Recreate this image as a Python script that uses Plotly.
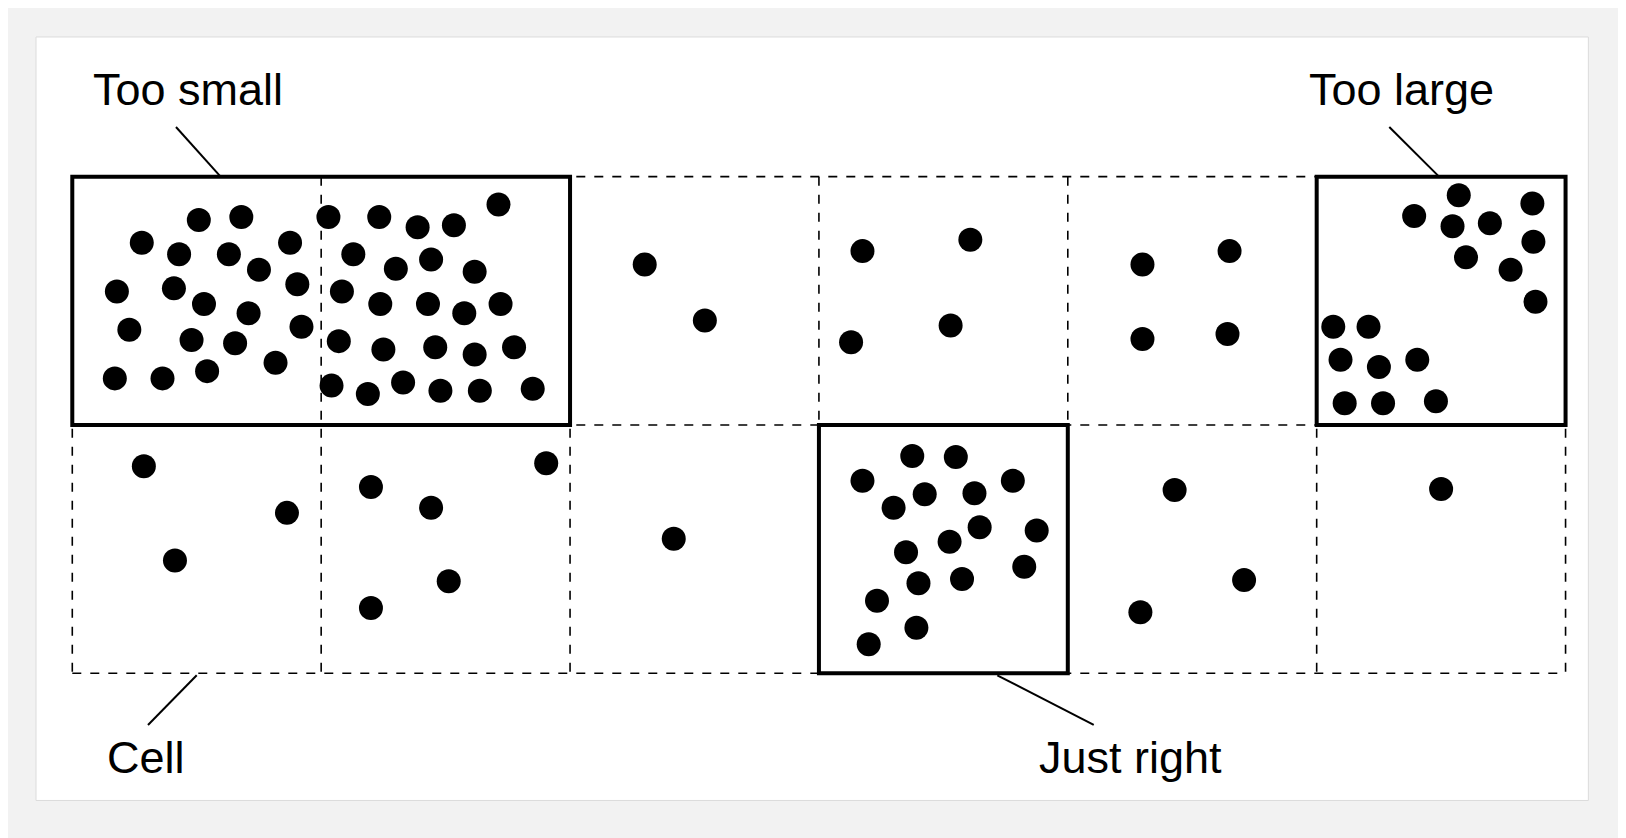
import plotly.graph_objects as go

# grid of cells (reference pixel coordinates)
col_edges = [70, 310, 550, 790, 1030, 1270, 1510]
row_edges = [170, 410, 650]

# dot positions
dots_x = [192, 233, 137, 173, 221, 280, 250, 113, 168, 197, 287, 240, 125, 185, 227, 291, 266, 111, 157, 200,
          317, 366, 403, 438, 481, 341, 382, 416, 458, 330, 367, 413, 448, 483, 327, 370, 420, 458, 496, 320, 355, 389, 425, 463, 514,
          622, 680,
          832, 936, 821, 917,
          1102, 1186, 1102, 1184,
          1407, 1478, 1364, 1401, 1437, 1414, 1457, 1479, 1481, 1286, 1320, 1293, 1330, 1367, 1297, 1334, 1385,
          139, 277, 169,
          358, 416, 527, 433, 358,
          650,
          832, 880, 922, 977, 862, 892, 940, 1000, 874, 916, 945, 988, 886, 928, 846, 884, 838,
          1133, 1200, 1100,
          1390]
dots_y = [212, 209, 234, 245, 245, 234, 260, 281, 278, 293, 274, 302, 318, 328, 331, 315, 350, 365, 365, 358,
          209, 209, 219, 217, 197, 245, 259, 250, 262, 281, 293, 293, 302, 293, 329, 337, 335, 342, 335, 372, 380, 369, 377, 377, 375,
          255, 309,
          242, 231, 330, 314,
          255, 242, 327, 322,
          188, 196, 208, 218, 215, 248, 260, 233, 291, 315, 315, 347, 354, 347, 389, 389, 387,
          450, 495, 541,
          470, 490, 447, 561, 587,
          520,
          464, 440, 441, 464, 490, 477, 476, 512, 533, 523, 509, 547, 563, 559, 580, 606, 622,
          473, 560, 591,
          472]

# highlighted windows: (x0, y0, x1, y1)
boxes = [(70, 170, 550, 410), (1270, 170, 1510, 410), (790, 410, 1030, 650)]

# labels: text, text position, leader line
labels = [
    ("Too small", 182, 86, (170, 122), (213, 170)),
    ("Too large", 1352, 86, (1340, 122), (1388, 170)),
    ("Cell", 141, 731, (190, 652), (143, 700)),
    ("Just right", 1090, 731, (962, 652), (1055, 700)),
]

fig = go.Figure()
shapes = [dict(type="rect", x0=35, y0=35, x1=1532, y1=773, line=dict(color="#dcdcdc", width=1),
               fillcolor="white", layer="below")]
for x in col_edges:
    shapes.append(dict(type="line", x0=x, x1=x, y0=row_edges[0], y1=row_edges[-1],
                       line=dict(color="black", width=1.6, dash="dash")))
for y in row_edges:
    shapes.append(dict(type="line", x0=col_edges[0], x1=col_edges[-1], y0=y, y1=y,
                       line=dict(color="black", width=1.6, dash="dash")))
for x0, y0, x1, y1 in boxes:
    shapes.append(dict(type="rect", x0=x0, y0=y0, x1=x1, y1=y1, line=dict(color="black", width=4)))
annotations = []
for text, tx, ty, p0, p1 in labels:
    shapes.append(dict(type="line", x0=p0[0], y0=p0[1], x1=p1[0], y1=p1[1], line=dict(color="black", width=2)))
    annotations.append(dict(x=tx, y=ty, text=text, showarrow=False,
                            font=dict(family="Liberation Sans, Arial", size=45, color="black")))

fig.add_trace(go.Scatter(x=dots_x, y=dots_y, mode="markers",
                         marker=dict(color="black", size=24), hoverinfo="skip"))

fig.update_layout(width=1626, height=838, margin=dict(l=0, r=0, t=0, b=0),
                  paper_bgcolor="#f2f2f2", plot_bgcolor="#f2f2f2", showlegend=False,
                  shapes=shapes, annotations=annotations,
                  xaxis=dict(range=[8, 1576], visible=False, fixedrange=True),
                  yaxis=dict(range=[817, 7], visible=False, fixedrange=True))
fig.write_html("out.html")
